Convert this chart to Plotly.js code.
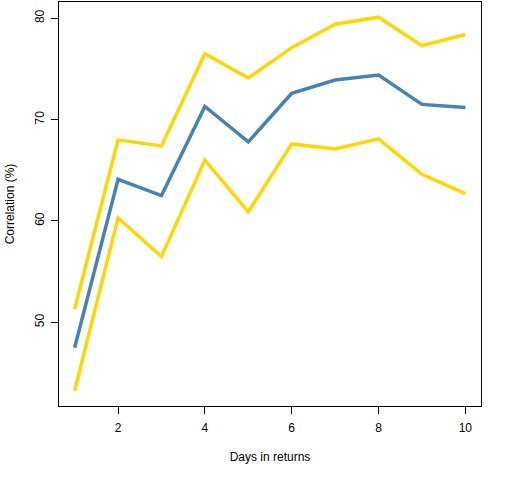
<!DOCTYPE html>
<html>
<head>
<meta charset="utf-8">
<script src="https://cdn.plot.ly/plotly-3.0.1.min.js"></script>
<style>html,body{margin:0;padding:0;background:#fff;}#chart{width:512px;height:480px;}</style>
</head>
<body>
<div id="chart"></div>
<script>
var days = [1, 2, 3, 4, 5, 6, 7, 8, 9, 10];
var correlation = [47.5, 64.1, 62.5, 71.3, 67.8, 72.6, 73.9, 74.4, 71.5, 71.2];
var upperBand = [51.3, 68.0, 67.4, 76.5, 74.1, 77.1, 79.4, 80.1, 77.3, 78.4];
var lowerBand = [43.25, 60.3, 56.5, 66.0, 60.9, 67.6, 67.1, 68.1, 64.6, 62.7];
var xTicks = [2, 4, 6, 8, 10];
var yTicks = [50, 60, 70, 80];

var gold = '#FFD700', steel = '#4682B4';
var traces = [
  {x: days, y: upperBand, mode: 'lines', line: {color: gold, width: 3.5}, hoverinfo: 'skip'},
  {x: days, y: lowerBand, mode: 'lines', line: {color: gold, width: 3.5}, hoverinfo: 'skip'},
  {x: days, y: correlation, mode: 'lines', line: {color: steel, width: 3.5}, hoverinfo: 'skip'}
];
var font = {family: 'Liberation Sans, Arial, sans-serif', size: 12, color: '#000'};
var layout = {
  width: 512, height: 480,
  margin: {l: 59, r: 31, t: 2, b: 74, pad: 0},
  showlegend: false,
  paper_bgcolor: '#fff', plot_bgcolor: '#fff',
  font: font,
  xaxis: {
    range: [0.64, 10.36], tickvals: xTicks, ticktext: xTicks.map(String),
    ticks: 'outside', ticklen: 7, tickwidth: 1, tickcolor: '#000', ticklabelstandoff: 4,
    showgrid: false, zeroline: false, showline: true, mirror: true, linecolor: '#000', linewidth: 1,
    tickfont: font,
    title: {text: 'Days in returns', font: font, standoff: 18}
  },
  yaxis: {
    range: [41.75, 81.6], tickvals: yTicks, ticktext: yTicks.map(String),
    ticks: 'outside', ticklen: 7, tickwidth: 1, tickcolor: '#000', tickangle: -90, ticklabelstandoff: 2,
    showgrid: false, zeroline: false, showline: true, mirror: true, linecolor: '#000', linewidth: 1,
    tickfont: font,
    title: {text: 'Correlation (%)', font: font, standoff: 16}
  }
};
Plotly.newPlot('chart', traces, layout, {staticPlot: true, displayModeBar: false});
</script>
</body>
</html>
